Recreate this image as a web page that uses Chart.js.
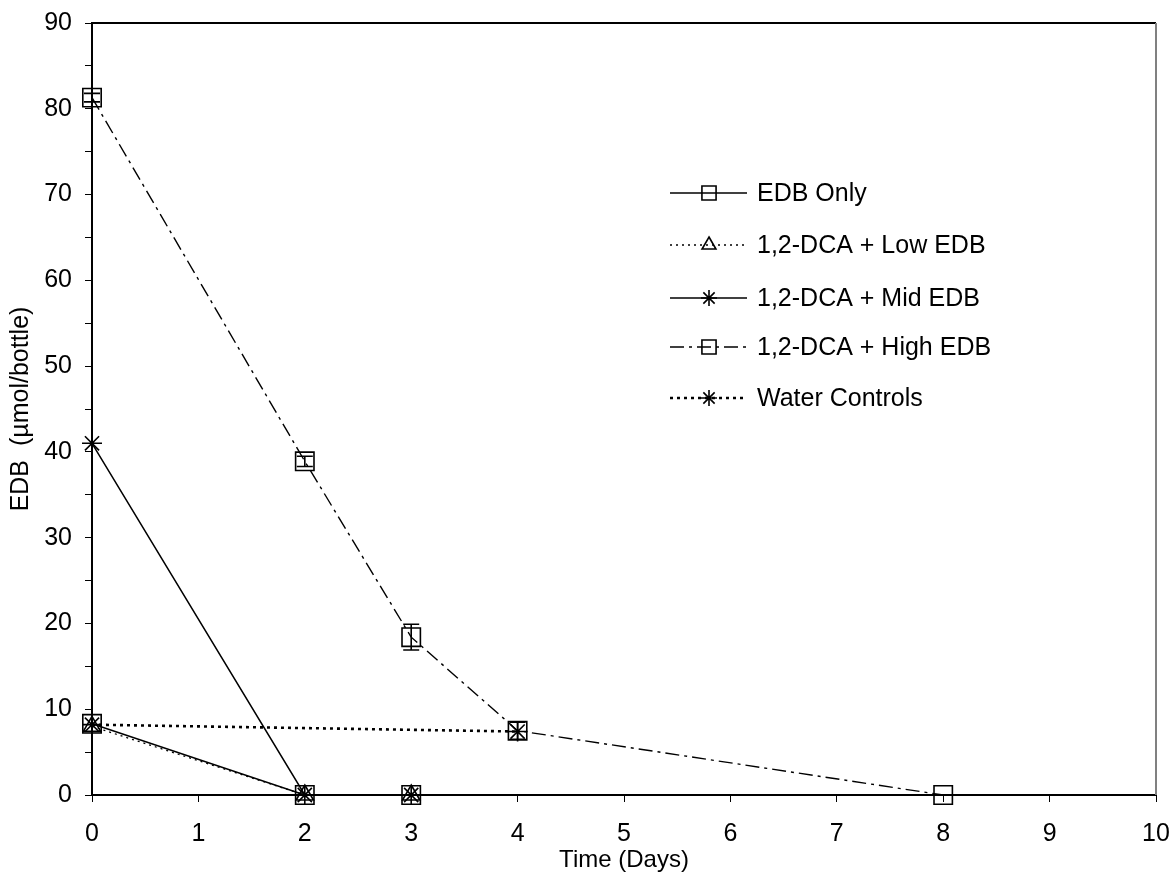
<!DOCTYPE html>
<html>
<head>
<meta charset="utf-8">
<script src="https://cdn.jsdelivr.net/npm/chart.js@4"></script>
<style>
  html, body { margin: 0; padding: 0; background: #fff; }
  #wrap { width: 1175px; height: 881px; }
</style>
</head>
<body>
<div id="wrap"><canvas id="edbChart" width="1175" height="881"></canvas></div>
<script>
// series data (Time in days, EDB in umol/bottle)
const edbOnlyX = [0, 2, 3];
const edbOnlyY = [8.3, 0, 0];

const lowX = [0, 2, 3];
const lowY = [8.0, 0, 0];

const midX = [0, 2, 3];
const midY = [41, 0, 0];

const highX = [0, 2, 3, 4, 8];
const highY = [81.3, 38.9, 18.4, 7.5, 0];
const highErr = [0.5, 0.6, 1.5, 1.0, 0];

const waterX = [0, 4];
const waterY = [8.2, 7.4];

const seriesNames = ['EDB Only', '1,2-DCA + Low EDB', '1,2-DCA + Mid EDB', '1,2-DCA + High EDB', 'Water Controls'];
const xTickLabels = ['0', '1', '2', '3', '4', '5', '6', '7', '8', '9', '10'];
const yTickLabels = ['0', '10', '20', '30', '40', '50', '60', '70', '80', '90'];

const FONT = '"Liberation Sans", Arial, sans-serif';
const FSIZE = 25;

// x/y lists ko points me badlo
function toPoints(xs, ys) {
    return xs.map((x, i) => ({ x: x, y: ys[i] }));
}

function makeSet(label, xs, ys, style, radius, dash, width) {
    return {
        label: label,
        data: toPoints(xs, ys),
        borderColor: '#000',
        backgroundColor: 'transparent',
        borderWidth: width,
        borderDash: dash,
        pointStyle: style,
        pointRadius: radius,
        pointBorderWidth: 1.6,
        pointBorderColor: '#000',
        pointBackgroundColor: 'transparent',
        showLine: true,
        tension: 0,
        clip: false
    };
}

const datasets = [
    makeSet(seriesNames[0], edbOnlyX, edbOnlyY, 'rect', 13, [], 1.5),
    makeSet(seriesNames[1], lowX, lowY, 'triangle', 10, [2, 4], 1.3),
    makeSet(seriesNames[2], midX, midY, 'star', 10, [], 1.5),
    makeSet(seriesNames[3], highX, highY, 'rect', 13, [14, 5, 3, 5], 1.4),
    makeSet(seriesNames[4], waterX, waterY, 'star', 10, [3, 4], 2.6)
];

// error bars sirf High EDB ke liye
const errorBars = {
    id: 'errorBars',
    afterDatasetsDraw(chart) {
        const { ctx, scales: { x, y } } = chart;
        ctx.save();
        ctx.strokeStyle = '#000';
        ctx.lineWidth = 1.6;
        ctx.setLineDash([]);
        highX.forEach((xv, i) => {
            const e = highErr[i];
            if (!e) return;
            const px = x.getPixelForValue(xv);
            const top = y.getPixelForValue(highY[i] + e);
            const bot = y.getPixelForValue(highY[i] - e);
            ctx.beginPath();
            ctx.moveTo(px, top); ctx.lineTo(px, bot);
            ctx.moveTo(px - 8, top); ctx.lineTo(px + 8, top);
            ctx.moveTo(px - 8, bot); ctx.lineTo(px + 8, bot);
            ctx.stroke();
        });
        ctx.restore();
    }
};

// frame: top black line, right grey line
const frame = {
    id: 'frame',
    beforeDatasetsDraw(chart) {
        const { ctx, chartArea: a } = chart;
        ctx.save();
        ctx.setLineDash([]);
        ctx.strokeStyle = '#000';
        ctx.lineWidth = 2;
        ctx.beginPath();
        ctx.moveTo(a.left, a.top); ctx.lineTo(a.right, a.top);
        ctx.stroke();
        ctx.strokeStyle = '#808080';
        ctx.lineWidth = 2;
        ctx.beginPath();
        ctx.moveTo(a.right, a.top); ctx.lineTo(a.right, a.bottom);
        ctx.stroke();
        ctx.restore();
    }
};

// custom legend inside the plot
const customLegend = {
    id: 'customLegend',
    afterDraw(chart) {
        const { ctx } = chart;
        const x0 = 670, x1 = 747, textX = 757;
        const rows = [193, 245, 298, 347, 398];
        ctx.save();
        ctx.font = FSIZE + 'px ' + FONT;
        ctx.textBaseline = 'middle';
        chart.data.datasets.forEach((ds, i) => {
            const yy = rows[i];
            ctx.strokeStyle = '#000';
            ctx.lineWidth = ds.borderWidth;
            ctx.setLineDash(ds.borderDash);
            ctx.beginPath();
            ctx.moveTo(x0, yy); ctx.lineTo(x1, yy);
            ctx.stroke();
            ctx.setLineDash([]);
            ctx.lineWidth = 1.6;
            ctx.fillStyle = 'rgba(0,0,0,0)';
            Chart.helpers.drawPoint(ctx, {
                pointStyle: ds.pointStyle,
                radius: ds.pointStyle === 'rect' ? 10 : 8,
                borderWidth: 1.6,
                rotation: 0
            }, 709, yy);
            ctx.fillStyle = '#000';
            ctx.fillText(ds.label, textX, yy + 1);
        });
        ctx.restore();
    }
};

new Chart(document.getElementById('edbChart'), {
    type: 'scatter',
    data: { datasets: datasets },
    plugins: [frame, errorBars, customLegend],
    options: {
        responsive: false,
        animation: false,
        devicePixelRatio: 1,
        layout: { padding: { top: 23, right: 19, left: 0, bottom: 0 } },
        plugins: {
            legend: { display: false },
            tooltip: { enabled: false }
        },
        scales: {
            x: {
                type: 'linear',
                min: 0,
                max: 10,
                afterFit(scale) {
                    scale.height = 86;
                    scale.paddingLeft = 0;
                    scale.paddingRight = 0;
                },
                border: { color: '#000', width: 2 },
                grid: { drawOnChartArea: false, drawTicks: true, tickLength: 7, color: '#000', lineWidth: 1 },
                ticks: {
                    stepSize: 1,
                    padding: 17,
                    maxRotation: 0,
                    color: '#000',
                    font: { family: FONT, size: FSIZE },
                    callback: (v) => xTickLabels[v] !== undefined ? xTickLabels[v] : ''
                },
                title: {
                    display: true,
                    text: 'Time (Days)',
                    color: '#000',
                    font: { family: FONT, size: 24 },
                    padding: { top: 0, bottom: 6 }
                }
            },
            y: {
                type: 'linear',
                min: 0,
                max: 90,
                afterFit(scale) {
                    scale.width = 92;
                    scale.paddingTop = 0;
                    scale.paddingBottom = 0;
                },
                border: { color: '#000', width: 2 },
                grid: { drawOnChartArea: false, drawTicks: true, tickLength: 7, color: '#000', lineWidth: 1 },
                ticks: {
                    stepSize: 5,
                    padding: 13,
                    color: '#000',
                    font: { family: FONT, size: FSIZE },
                    callback: (v) => v % 10 === 0 ? yTickLabels[v / 10] : ''
                },
                title: {
                    display: true,
                    text: 'EDB  (\u00b5mol/bottle)',
                    color: '#000',
                    font: { family: FONT, size: FSIZE },
                    padding: { top: 6, bottom: 0 }
                }
            }
        }
    }
});
</script>
</body>
</html>
